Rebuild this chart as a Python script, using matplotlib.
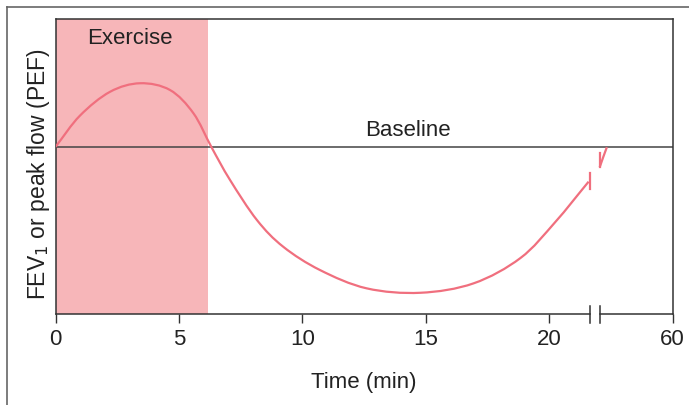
import numpy as np
import matplotlib.pyplot as plt
from matplotlib.lines import Line2D
from matplotlib.path import Path
from matplotlib.patches import PathPatch

# data (x in axis units: 0-20 min linear, break, "60" drawn at 25)
curve_x = [0.0, 0.99, 2.21, 3.43, 4.64, 5.59, 6.32, 7.07, 8.16, 9.23, 10.72,
           12.61, 14.78, 16.94, 18.84, 20.25, 21.60]
curve_y = [56.6, 67.2, 75.3, 78.2, 75.9, 68.0, 56.5, 45.4, 31.8, 22.7, 14.8,
           8.6, 7.1, 10.3, 18.9, 31.1, 44.8]
tail_x = [22.05, 22.2, 22.34]
tail_y = [49.7, 53.3, 56.5]

baseline = 56.5
exercise_end = 6.19
tick_pos = [0, 5, 10, 15, 20, 25]
tick_lab = ['0', '5', '10', '15', '20', '60']
break_at = [21.65, 22.05]

line_col = '#f06f7e'
fill_col = '#f7b6b9'
ax_col = '#333333'
txt_col = '#222222'
fs = 16


def smooth_path(xs, ys):
    # catmull-rom through the points, drawn as cubic bezier segments
    p = np.column_stack([xs, ys])
    p = np.vstack([2 * p[0] - p[1], p, 2 * p[-1] - p[-2]])
    verts = [p[1]]
    codes = [Path.MOVETO]
    for i in range(1, len(p) - 2):
        p0, p1, p2, p3 = p[i - 1], p[i], p[i + 1], p[i + 2]
        verts += [p1 + (p2 - p0) / 6, p2 - (p3 - p1) / 6, p2]
        codes += [Path.CURVE4] * 3
    return Path(verts, codes)


plt.rcParams['font.family'] = ['Liberation Sans', 'DejaVu Sans']

fig = plt.figure(figsize=(6.89, 4.05), dpi=100)
ax = fig.add_axes([55.5 / 689, 1 - 313.7 / 405, 617 / 689, 294.7 / 405])

ax.axvspan(0, exercise_end, color=fill_col, lw=0, zorder=0)
ax.axhline(baseline, color='#444444', lw=1.1, zorder=2)
ax.add_patch(PathPatch(smooth_path(curve_x, curve_y), fc='none', ec=line_col,
                       lw=1.6, capstyle='butt', zorder=3))
ax.plot(tail_x, tail_y, color=line_col, lw=1.6, solid_capstyle='butt', zorder=3)

# break marks on the curve
ax.plot([break_at[0]] * 2, [42.3, 47.7], color=line_col, lw=1.6, zorder=3)
ax.plot([break_at[1]] * 2, [49.7, 54.6], color=line_col, lw=1.6, zorder=3)

ax.text(3.02, 93.5, 'Exercise', ha='center', va='center', fontsize=fs, color=txt_col)
ax.text(14.3, 62.0, 'Baseline', ha='center', va='center', fontsize=fs, color=txt_col)

ax.set_xlim(0, 25)
ax.set_ylim(0, 100)
ax.set_yticks([])
ax.set_xticks(tick_pos)
ax.set_xticklabels(tick_lab, fontsize=fs, color=txt_col)
ax.tick_params(axis='x', direction='out', length=6.5, width=1, color=ax_col, pad=4.5)

for s in ['left', 'right', 'top']:
    ax.spines[s].set_color(ax_col)
    ax.spines[s].set_linewidth(1.1)
ax.spines['bottom'].set_visible(False)

# broken bottom axis
tr = ax.get_xaxis_transform()
ax.plot([0, break_at[0]], [0, 0], color=ax_col, lw=1.1, transform=tr, clip_on=False)
ax.plot([break_at[1], 25], [0, 0], color=ax_col, lw=1.1, transform=tr, clip_on=False)
for b in break_at:
    ax.plot([b, b], [-0.030, 0.026], color=ax_col, lw=1.1, transform=tr, clip_on=False)

ax.set_xlabel('Time (min)', fontsize=fs, color=txt_col, labelpad=16)
ax.set_ylabel('FEV$_1$ or peak flow (PEF)', fontsize=16.5, color=txt_col, labelpad=2.5)
ax.yaxis.label.set_y(0.474)

# outer frame
fig.add_artist(Line2D([7 / 689, 1], [1 - 7 / 405] * 2, color='#666666', lw=1.2,
                      transform=fig.transFigure))
fig.add_artist(Line2D([7 / 689] * 2, [0, 1 - 7 / 405], color='#666666', lw=1.2,
                      transform=fig.transFigure))

fig.savefig('out.png', dpi=100)
